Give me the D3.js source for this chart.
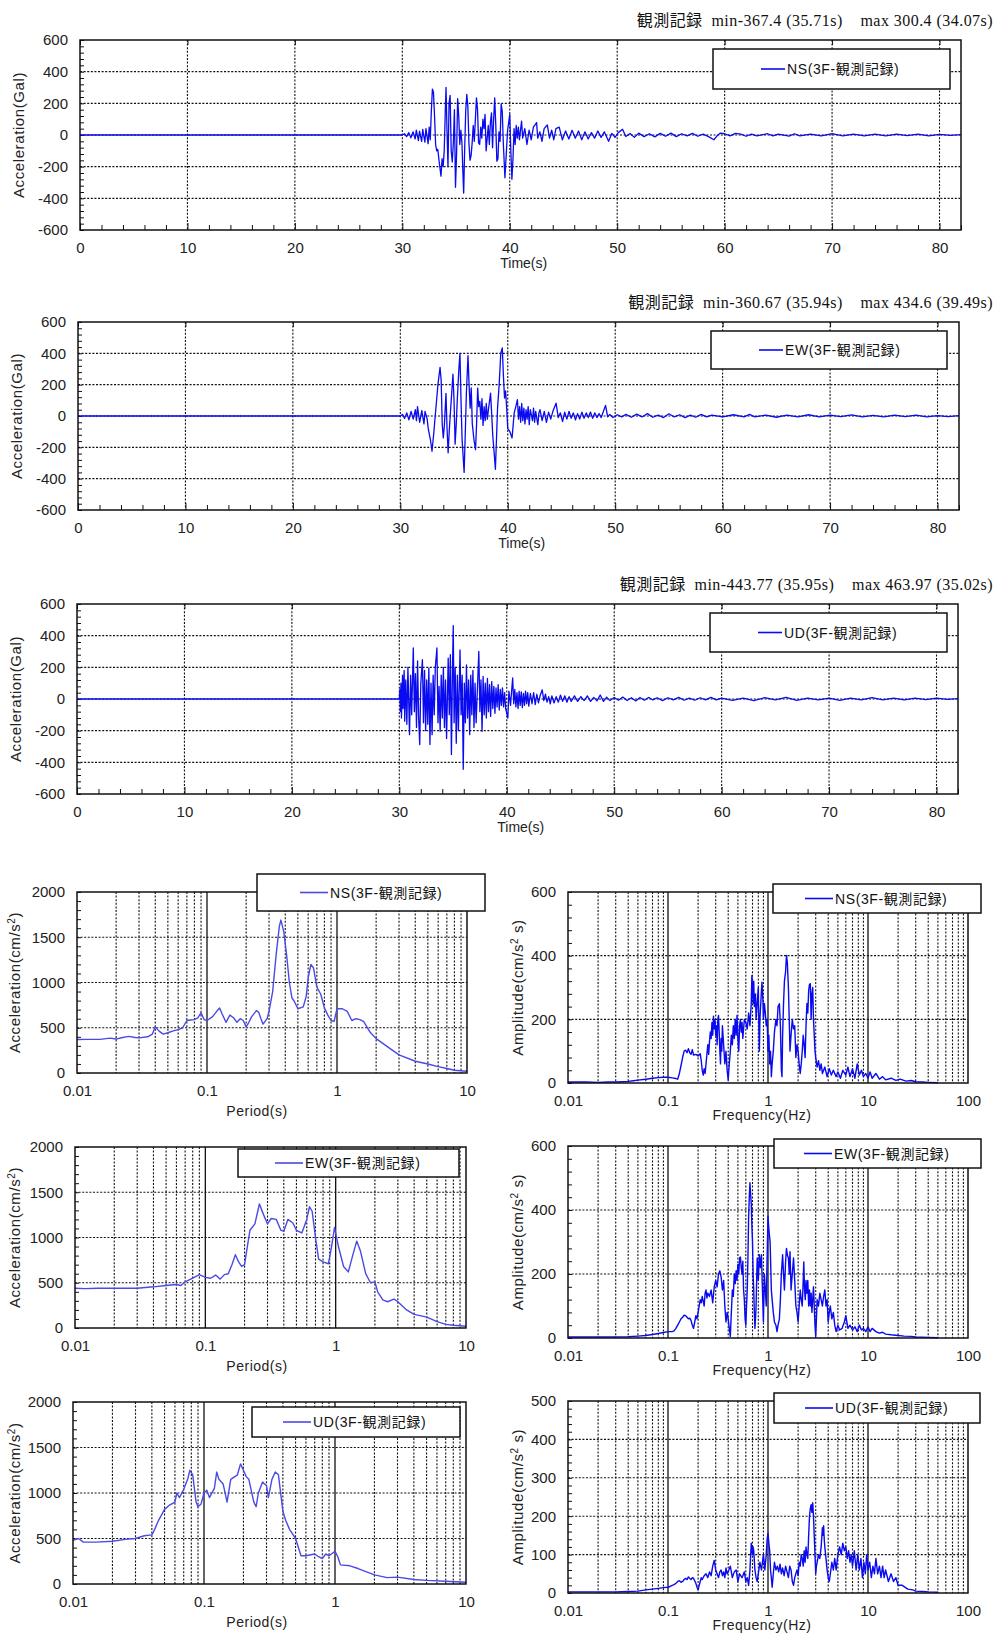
<!DOCTYPE html>
<html><head><meta charset="utf-8">
<script src="https://cdn.jsdelivr.net/npm/d3@7"></script>
<style>
body{margin:0;background:#fff}
svg text{font-family:"Liberation Sans","Noto Sans CJK JP",sans-serif;fill:#222}
svg text.ttl{font-family:"Liberation Serif","Noto Sans CJK JP",serif;white-space:pre}
.grid{stroke:#111;stroke-width:1.1;stroke-dasharray:2,1.6}
.dec{stroke:#111;stroke-width:1.3}
.frame{fill:none;stroke:#111;stroke-width:1.5}
.ax path{display:none}
.ax line{stroke:#111;stroke-width:1}
</style></head><body>
<svg id="c" width="999" height="1634"></svg>
<script>
// ---------- acceleration records (time s, Gal) ----------
const recNS = [[0,0],[30,0],[30.2,8],[30.4,-10],[30.6,15],[30.8,-18],[31.0,20],[31.2,-25],[31.3,30],[31.5,-35],[31.6,25],[31.8,-40],[31.9,35],[32.1,-45],[32.2,40],[32.4,-55],[32.5,50],[32.6,-30],[32.7,150],[32.8,290],[32.9,270],[33.0,120],[33.1,-60],[33.2,-100],[33.3,-90],[33.45,-180],[33.6,-260],[33.7,-150],[33.8,-200],[33.9,-100],[34.0,150],[34.07,300],[34.15,50],[34.25,-200],[34.35,200],[34.45,250],[34.55,-100],[34.65,-170],[34.75,-50],[34.85,160],[34.95,-330],[35.05,-120],[35.15,230],[35.25,120],[35.35,-60],[35.45,30],[35.55,-50],[35.62,-200],[35.71,-367],[35.8,-100],[35.9,150],[36.0,257],[36.1,180],[36.2,-50],[36.3,-160],[36.4,-130],[36.5,-50],[36.6,60],[36.7,-40],[36.8,100],[36.9,235],[37.0,160],[37.1,-50],[37.2,-60],[37.3,50],[37.4,-20],[37.5,100],[37.6,40],[37.7,130],[37.8,-100],[37.9,-20],[38.0,60],[38.1,-60],[38.2,80],[38.3,140],[38.4,-80],[38.5,100],[38.6,235],[38.7,60],[38.8,-165],[38.9,-150],[39.0,20],[39.1,-40],[39.2,195],[39.3,150],[39.4,-50],[39.55,-270],[39.65,-150],[39.8,30],[39.9,80],[40.0,130],[40.1,-100],[40.2,-280],[40.3,-150],[40.4,40],[40.5,-60],[40.6,60],[40.7,-20],[40.8,50],[40.9,-30],[41.1,88],[41.2,-20],[41.4,40],[41.6,-60],[41.8,30],[42.0,-30],[42.2,50],[42.5,78],[42.6,-20],[42.8,20],[43.0,-40],[43.2,40],[43.5,63],[43.7,-20],[43.9,30],[44.1,-30],[44.3,40],[44.6,50],[44.9,-30],[45.2,25],[45.5,-25],[45.8,30],[46.1,-20],[46.4,25],[46.7,-30],[47.0,20],[47.3,-25],[47.6,15],[47.9,-20],[48.2,25],[48.5,-15],[48.8,20],[49.2,-40],[49.5,10],[49.8,-15],[50.1,15],[50.5,36],[50.8,-10],[51.2,10],[51.6,-15],[52.0,12],[52.5,-10],[53,8],[53.5,-12],[54,10],[54.5,-8],[55,12],[55.5,-10],[56,8],[56.5,-6],[57,10],[57.5,-8],[58,6],[58.5,-10],[59.0,-30],[59.3,-5],[59.6,12],[60,8],[60.5,-6],[61,10],[61.5,5],[62,-8],[62.5,6],[63,-5],[64,8],[64.5,-6],[65,5],[66,-7],[66.5,8],[67,-5],[68,6],[69,-6],[70,8],[71,-5],[72,6],[73,-6],[74,5],[75,-5],[76,6],[77,-4],[78,5],[79,-5],[80,4],[81,-3],[82,2]];

const recEW = [[0,0],[30,0],[30.2,10],[30.4,-15],[30.6,20],[30.8,-25],[31.0,30],[31.2,-20],[31.4,40],[31.5,-30],[31.6,60],[31.8,-40],[32.0,35],[32.2,-50],[32.3,30],[32.5,-20],[32.6,-80],[32.8,-150],[32.95,-225],[33.1,-120],[33.2,-40],[33.35,80],[33.5,200],[33.7,310],[33.8,230],[33.9,-50],[34.0,-140],[34.1,-60],[34.25,145],[34.35,-80],[34.45,-235],[34.55,-100],[34.7,60],[34.9,267],[35.0,100],[35.1,-180],[35.2,-60],[35.3,100],[35.45,300],[35.55,400],[35.65,100],[35.75,-150],[35.94,-360],[36.05,-100],[36.15,150],[36.3,385],[36.4,200],[36.5,50],[36.6,180],[36.7,-50],[36.85,-150],[37.0,-215],[37.1,-50],[37.2,178],[37.3,60],[37.4,93],[37.5,-20],[37.6,110],[37.7,-60],[37.8,60],[37.9,-30],[38.0,80],[38.1,-20],[38.2,40],[38.4,146],[38.5,20],[38.6,-120],[38.75,-250],[38.85,-340],[38.95,-150],[39.05,50],[39.2,200],[39.35,400],[39.49,435],[39.6,250],[39.7,115],[39.8,160],[39.9,50],[40.0,-80],[40.2,-100],[40.4,-140],[40.5,-60],[40.6,20],[40.75,60],[40.9,104],[41.0,-20],[41.1,60],[41.2,-40],[41.3,80],[41.4,-30],[41.5,50],[41.6,-50],[41.7,40],[41.8,-20],[41.9,60],[42.0,-55],[42.1,40],[42.3,-30],[42.4,50],[42.5,-40],[42.6,30],[42.8,-55],[42.9,20],[43.0,40],[43.2,-30],[43.4,30],[43.6,-40],[43.8,25],[44.0,-20],[44.2,30],[44.5,82],[44.7,-10],[44.9,20],[45.1,-35],[45.3,25],[45.5,-20],[45.7,30],[45.9,-15],[46.1,20],[46.3,-25],[46.5,15],[46.7,-20],[46.9,25],[47.1,-15],[47.3,20],[47.5,-10],[47.7,25],[47.9,-15],[48.1,20],[48.3,-10],[48.5,15],[48.7,-10],[49.1,68],[49.3,-5],[49.5,10],[49.8,-10],[50.2,8],[50.6,-6],[51,10],[51.5,-8],[52,12],[52.5,-6],[53,15],[53.5,-8],[54,6],[54.5,-10],[55,14],[55.5,-6],[56,8],[56.5,-10],[57,6],[57.5,-8],[58,10],[58.5,-5],[59,6],[60,-6],[61,8],[62,-5],[62.5,10],[63,-5],[64,5],[65,-8],[66,6],[67,-5],[68,8],[69,-6],[70,5],[71,-4],[72,7],[73,-5],[74,4],[75,-6],[76,5],[77,-4],[78,5],[79,-5],[80,3],[81,-4],[82,2]];

const recUD = [[0,0],[30,0],[30.05,60],[30.1,-80],[30.15,100],[30.2,-120],[30.3,150],[30.35,-60],[30.45,180],[30.5,-140],[30.6,120],[30.7,-160],[30.8,200],[30.95,-225],[31.05,150],[31.15,-100],[31.3,322],[31.4,-80],[31.5,160],[31.6,-180],[31.7,240],[31.8,-120],[31.9,-288],[32.0,100],[32.15,248],[32.25,-150],[32.35,180],[32.45,-200],[32.55,120],[32.65,-160],[32.75,195],[32.85,-288],[32.95,100],[33.05,-225],[33.15,150],[33.25,-100],[33.35,200],[33.5,322],[33.6,-150],[33.7,80],[33.8,-204],[33.9,150],[34.0,-120],[34.1,200],[34.2,-180],[34.3,120],[34.4,-250],[34.55,258],[34.65,-100],[34.75,280],[34.85,-350],[34.95,200],[35.02,464],[35.1,-150],[35.2,200],[35.3,-280],[35.4,150],[35.5,-200],[35.65,310],[35.75,-100],[35.85,150],[35.95,-444],[36.05,100],[36.15,-150],[36.25,216],[36.35,-120],[36.45,120],[36.55,-225],[36.65,150],[36.75,-100],[36.85,180],[36.95,-180],[37.05,100],[37.15,-150],[37.3,120],[37.4,300],[37.5,-80],[37.6,120],[37.7,-204],[37.8,142],[37.9,-100],[38.0,100],[38.1,-120],[38.2,130],[38.3,-80],[38.4,90],[38.5,-110],[38.6,110],[38.7,-60],[38.8,80],[38.9,-90],[39.0,70],[39.1,-50],[39.2,90],[39.3,-70],[39.4,60],[39.5,-40],[39.6,70],[39.7,-50],[39.8,40],[39.9,-60],[40.1,-120],[40.2,50],[40.35,-40],[40.55,133],[40.65,-30],[40.75,60],[40.85,-50],[40.95,40],[41.05,-60],[41.15,50],[41.25,-40],[41.35,45],[41.45,-55],[41.55,35],[41.65,-40],[41.75,50],[41.85,-30],[41.95,40],[42.05,-45],[42.2,35],[42.35,-30],[42.5,40],[42.65,-35],[42.8,30],[42.95,-25],[43.1,20],[43.3,58],[43.45,-10],[43.6,30],[43.75,-20],[43.9,15],[44.05,-30],[44.2,20],[44.4,-25],[44.6,15],[44.8,-20],[45.0,25],[45.2,-15],[45.4,20],[45.6,-20],[45.8,15],[46.0,-15],[46.3,20],[46.6,-15],[46.9,15],[47.2,-10],[47.5,20],[47.8,-15],[48.1,10],[48.4,-12],[48.7,25],[49.0,-15],[49.3,12],[49.6,-10],[50.0,10],[50.4,-8],[50.8,12],[51.2,-10],[51.6,8],[52.0,-12],[52.4,10],[52.8,-8],[53.2,10],[53.6,-6],[54.0,8],[54.5,-10],[55.0,8],[55.5,-6],[56,10],[56.5,-8],[57,6],[57.5,-8],[58,8],[58.5,-6],[59,10],[59.5,-5],[60,6],[61,-8],[62,6],[63,-10],[64,8],[65,-6],[66,10],[67,-8],[68,6],[69,-5],[70,6],[71,-8],[72,5],[73,-6],[74,8],[75,-5],[76,6],[77,-6],[78,5],[79,-4],[80,5],[81,-3],[82,2]];

// ---------- acceleration response spectra (period s, cm/s^2) ----------
const rsNS = [[0.01,370],[0.012,372],[0.015,372],[0.018,385],[0.02,375],[0.022,390],[0.025,405],[0.028,392],[0.03,388],[0.035,400],[0.038,430],[0.04,510],[0.043,460],[0.046,430],[0.05,445],[0.055,465],[0.06,480],[0.065,500],[0.07,580],[0.075,585],[0.08,590],[0.085,610],[0.09,665],[0.095,590],[0.1,580],[0.11,620],[0.12,690],[0.125,718],[0.13,660],[0.14,560],[0.15,640],[0.16,610],[0.17,560],[0.18,600],[0.19,580],[0.2,510],[0.21,560],[0.22,620],[0.24,690],[0.25,670],[0.26,600],[0.27,540],[0.29,600],[0.3,680],[0.32,900],[0.34,1300],[0.36,1620],[0.37,1690],[0.39,1560],[0.41,1300],[0.43,1000],[0.45,830],[0.47,790],[0.5,710],[0.55,730],[0.58,850],[0.6,1050],[0.63,1200],[0.66,1160],[0.7,950],[0.75,870],[0.8,720],[0.85,640],[0.9,580],[0.95,570],[1.0,710],[1.1,710],[1.2,680],[1.3,580],[1.4,600],[1.5,590],[1.6,570],[1.8,450],[2.0,380],[2.5,280],[3.0,200],[4.0,130],[5.0,100],[6.0,70],[7.0,50],[8.0,30],[10,20]];

const rsEW = [[0.01,440],[0.012,435],[0.015,440],[0.02,440],[0.03,440],[0.04,455],[0.05,470],[0.06,480],[0.065,470],[0.07,510],[0.08,550],[0.09,590],[0.1,560],[0.11,550],[0.12,585],[0.13,540],[0.14,590],[0.15,600],[0.16,700],[0.17,810],[0.18,730],[0.19,680],[0.2,700],[0.21,900],[0.22,1080],[0.24,1150],[0.26,1370],[0.28,1250],[0.3,1150],[0.32,1210],[0.35,1200],[0.38,1080],[0.4,1070],[0.43,1200],[0.47,1160],[0.5,1080],[0.55,1050],[0.6,1200],[0.63,1340],[0.66,1290],[0.7,1000],[0.74,760],[0.8,730],[0.88,710],[0.93,900],[0.98,1110],[1.05,900],[1.15,680],[1.25,620],[1.35,800],[1.45,960],[1.55,850],[1.7,600],[1.85,500],[2.0,510],[2.1,400],[2.3,310],[2.5,290],[2.8,320],[3.0,290],[3.5,200],[4.0,150],[5.0,120],[6.0,70],[7.0,40],[8.0,30],[10,20]];

const rsUD = [[0.01,480],[0.011,500],[0.012,460],[0.015,460],[0.02,470],[0.025,490],[0.03,500],[0.035,530],[0.04,540],[0.042,600],[0.045,700],[0.05,820],[0.055,870],[0.06,900],[0.062,1000],[0.065,950],[0.07,1040],[0.075,1150],[0.078,1250],[0.082,1200],[0.087,900],[0.09,850],[0.095,880],[0.1,1000],[0.105,1030],[0.11,950],[0.12,1050],[0.125,1230],[0.13,1150],[0.14,1100],[0.15,900],[0.16,1150],[0.18,1200],[0.19,1320],[0.2,1250],[0.21,1180],[0.22,1150],[0.24,900],[0.25,850],[0.26,1000],[0.28,1120],[0.3,1080],[0.31,950],[0.33,1150],[0.35,1230],[0.37,1200],[0.4,800],[0.42,700],[0.45,600],[0.5,500],[0.55,310],[0.6,310],[0.7,330],[0.75,300],[0.8,280],[0.85,330],[0.9,310],[1.0,360],[1.05,300],[1.1,210],[1.3,200],[1.5,170],[2.0,100],[2.5,70],[3.0,75],[4.0,50],[5.0,40],[7.0,30],[10,20]];

// ---------- Fourier amplitude spectra (frequency Hz, cm/s^2·s) ----------
const ftNS = [[0.01,3],[0.015,3],[0.02,2],[0.025,3],[0.03,3],[0.035,4],[0.04,5],[0.045,7],[0.05,9],[0.06,12],[0.07,15],[0.08,17],[0.09,18],[0.1,18],[0.11,16],[0.12,14],[0.125,12],[0.13,30],[0.135,55],[0.14,80],[0.145,100],[0.15,103],[0.155,95],[0.16,108],[0.165,95],[0.17,90],[0.175,105],[0.18,88],[0.19,90],[0.2,85],[0.21,92],[0.215,70],[0.22,40],[0.225,25],[0.23,45],[0.235,30],[0.24,60],[0.25,120],[0.255,90],[0.26,130],[0.265,160],[0.27,140],[0.275,190],[0.28,150],[0.285,210],[0.29,170],[0.295,200],[0.3,150],[0.305,180],[0.31,120],[0.315,200],[0.32,212],[0.325,160],[0.33,100],[0.335,60],[0.34,140],[0.345,100],[0.35,180],[0.36,120],[0.37,60],[0.38,100],[0.39,40],[0.4,10],[0.41,60],[0.42,100],[0.43,150],[0.44,120],[0.45,180],[0.46,140],[0.47,200],[0.48,150],[0.49,212],[0.5,140],[0.51,100],[0.52,180],[0.53,200],[0.54,160],[0.55,190],[0.56,140],[0.58,200],[0.6,190],[0.62,170],[0.64,220],[0.66,180],[0.68,250],[0.69,338],[0.7,300],[0.71,250],[0.72,320],[0.73,240],[0.75,280],[0.76,200],[0.78,250],[0.8,300],[0.81,180],[0.82,100],[0.83,200],[0.85,260],[0.87,317],[0.89,260],[0.9,200],[0.92,250],[0.94,220],[0.96,180],[0.98,200],[1.0,100],[1.02,150],[1.04,60],[1.06,100],[1.08,20],[1.1,60],[1.13,100],[1.16,160],[1.2,200],[1.23,180],[1.26,240],[1.3,249],[1.33,180],[1.36,40],[1.38,20],[1.4,150],[1.43,250],[1.46,320],[1.5,350],[1.53,401],[1.56,380],[1.6,300],[1.63,200],[1.66,100],[1.7,150],[1.75,200],[1.8,170],[1.85,180],[1.9,80],[1.95,120],[2.0,100],[2.05,60],[2.1,30],[2.15,60],[2.2,100],[2.25,150],[2.3,120],[2.35,80],[2.4,180],[2.45,250],[2.5,220],[2.55,290],[2.6,310],[2.65,312],[2.7,200],[2.75,280],[2.8,300],[2.85,200],[2.9,150],[2.95,100],[3.0,80],[3.1,50],[3.2,70],[3.3,40],[3.4,60],[3.5,30],[3.7,50],[3.9,20],[4.1,45],[4.3,25],[4.5,40],[4.8,20],[5.0,35],[5.3,15],[5.6,40],[6.0,25],[6.3,50],[6.6,20],[7.0,45],[7.4,15],[7.8,60],[8.2,25],[8.6,40],[9.0,20],[9.5,30],[10,15],[10.5,35],[11,15],[12,30],[13,12],[14,20],[15,10],[17,15],[19,8],[21,12],[24,6],[27,8],[30,4],[35,3],[40,2],[50,1]];

const ftEW = [[0.01,3],[0.015,3],[0.02,3],[0.03,3],[0.04,4],[0.05,6],[0.06,8],[0.07,11],[0.08,14],[0.09,17],[0.1,20],[0.11,20],[0.115,22],[0.12,30],[0.125,40],[0.13,50],[0.135,60],[0.14,65],[0.145,71],[0.15,70],[0.155,65],[0.16,60],[0.165,62],[0.17,55],[0.175,40],[0.18,30],[0.185,50],[0.19,70],[0.195,60],[0.2,80],[0.205,100],[0.21,120],[0.215,110],[0.22,130],[0.225,115],[0.23,100],[0.235,140],[0.24,150],[0.245,125],[0.25,140],[0.26,130],[0.27,150],[0.28,110],[0.29,160],[0.3,180],[0.31,160],[0.32,200],[0.33,210],[0.34,190],[0.35,150],[0.36,180],[0.37,100],[0.38,50],[0.39,80],[0.4,60],[0.41,30],[0.42,5],[0.43,80],[0.44,150],[0.45,130],[0.46,200],[0.47,170],[0.48,210],[0.49,180],[0.5,230],[0.51,200],[0.52,250],[0.53,253],[0.54,220],[0.55,200],[0.56,240],[0.57,150],[0.58,120],[0.59,60],[0.6,40],[0.61,100],[0.62,150],[0.63,250],[0.64,380],[0.65,440],[0.66,485],[0.67,450],[0.68,420],[0.69,350],[0.7,300],[0.71,200],[0.72,150],[0.73,80],[0.74,30],[0.75,60],[0.76,100],[0.77,180],[0.78,250],[0.8,180],[0.82,260],[0.84,220],[0.86,260],[0.88,150],[0.9,50],[0.92,200],[0.94,150],[0.96,100],[0.98,250],[1.0,381],[1.02,340],[1.05,300],[1.08,150],[1.1,120],[1.13,80],[1.16,50],[1.2,40],[1.23,20],[1.26,40],[1.3,60],[1.33,120],[1.36,200],[1.4,260],[1.43,200],[1.46,150],[1.5,240],[1.53,280],[1.56,260],[1.6,250],[1.63,200],[1.66,270],[1.7,150],[1.75,200],[1.8,250],[1.85,180],[1.9,100],[1.95,80],[2.0,50],[2.05,100],[2.1,150],[2.15,120],[2.2,100],[2.25,180],[2.28,238],[2.32,150],[2.36,120],[2.4,180],[2.45,140],[2.5,180],[2.55,100],[2.6,150],[2.65,100],[2.7,140],[2.75,80],[2.8,120],[2.85,160],[2.9,100],[2.95,40],[3.0,5],[3.05,60],[3.1,120],[3.2,100],[3.3,140],[3.4,120],[3.5,100],[3.6,130],[3.7,150],[3.8,100],[3.9,120],[4.0,50],[4.1,80],[4.2,100],[4.35,60],[4.5,80],[4.65,40],[4.8,20],[5.0,40],[5.2,25],[5.5,30],[5.8,50],[6.0,70],[6.3,30],[6.6,40],[7.0,25],[7.4,35],[7.8,20],[8.2,40],[8.6,25],[9.0,30],[9.5,20],[10,35],[10.5,20],[11,30],[12,20],[13,15],[14,18],[15,12],[17,10],[20,8],[23,6],[27,5],[30,3],[40,2],[50,1]];

const ftUD = [[0.01,3],[0.02,3],[0.03,3],[0.04,4],[0.05,5],[0.06,8],[0.07,10],[0.08,12],[0.09,14],[0.1,15],[0.105,17],[0.11,20],[0.115,22],[0.12,25],[0.125,30],[0.13,32],[0.135,28],[0.14,30],[0.145,35],[0.15,38],[0.155,35],[0.16,42],[0.165,38],[0.17,35],[0.175,40],[0.18,38],[0.185,32],[0.19,25],[0.195,15],[0.2,8],[0.205,20],[0.21,30],[0.215,40],[0.22,35],[0.23,45],[0.24,50],[0.25,40],[0.26,55],[0.27,45],[0.28,70],[0.29,85],[0.3,60],[0.31,50],[0.32,40],[0.33,55],[0.34,60],[0.35,45],[0.36,55],[0.37,40],[0.38,65],[0.39,50],[0.4,55],[0.42,70],[0.44,40],[0.46,55],[0.48,60],[0.5,30],[0.52,50],[0.55,40],[0.58,55],[0.6,30],[0.62,40],[0.64,20],[0.66,60],[0.68,130],[0.69,110],[0.7,100],[0.71,120],[0.72,110],[0.74,60],[0.76,40],[0.78,30],[0.8,50],[0.83,80],[0.86,60],[0.9,100],[0.93,60],[0.96,100],[0.98,140],[1.0,156],[1.02,130],[1.04,110],[1.06,60],[1.08,40],[1.1,15],[1.13,50],[1.16,80],[1.2,60],[1.24,70],[1.28,55],[1.32,75],[1.36,50],[1.4,65],[1.45,45],[1.5,70],[1.55,55],[1.6,40],[1.65,70],[1.7,60],[1.75,30],[1.8,20],[1.85,40],[1.9,50],[1.95,60],[2.0,45],[2.05,80],[2.1,70],[2.15,100],[2.2,90],[2.25,70],[2.3,110],[2.35,80],[2.4,120],[2.45,100],[2.5,90],[2.55,150],[2.6,200],[2.65,220],[2.7,230],[2.75,210],[2.8,235],[2.85,200],[2.9,150],[2.95,100],[3.0,50],[3.05,70],[3.1,80],[3.2,100],[3.3,90],[3.4,120],[3.5,170],[3.55,150],[3.6,175],[3.65,140],[3.7,120],[3.8,90],[3.9,60],[4.0,40],[4.1,30],[4.2,50],[4.35,80],[4.5,60],[4.65,90],[4.8,60],[5.0,100],[5.2,120],[5.4,100],[5.6,130],[5.8,110],[6.0,120],[6.2,90],[6.4,110],[6.6,80],[6.8,100],[7.0,70],[7.3,110],[7.6,60],[7.9,100],[8.2,60],[8.5,90],[8.8,40],[9.1,80],[9.4,50],[9.7,100],[10,60],[10.4,80],[10.8,40],[11.2,70],[11.6,50],[12,90],[12.5,50],[13,70],[13.5,40],[14,70],[14.5,40],[15,60],[16,30],[17,50],[18,30],[19,40],[20,20],[22,20],[25,10],[28,8],[30,5],[35,4],[40,3],[50,2]];

// ---------- tick values and labels ----------
const timeTicks = [0,10,20,30,40,50,60,70,80];
const timeMinor = [2,4,6,8,12,14,16,18,22,24,26,28,32,34,36,38,42,44,46,48,52,54,56,58,62,64,66,68,72,74,76,78,82];
const accTicks = [-600,-400,-200,0,200,400,600];
const periodTicks = [0.01,0.1,1,10];
const freqTicks = [0.01,0.1,1,10,100];
const rsTicks = [0,500,1000,1500,2000];
const ftTicks600 = [0,200,400,600];
const ftTicks500 = [0,100,200,300,400,500];

const components = ["NS","EW","UD"];
const legendNames = components.map(c => c + "(3F-観測記録)");
const titles = [
  "観測記録  min-367.4 (35.71s)    max 300.4 (34.07s)",
  "観測記録  min-360.67 (35.94s)    max 434.6 (39.49s)",
  "観測記録  min-443.77 (35.95s)    max 463.97 (35.02s)"
];

const svg = d3.select("#c");
const LINE = "#0a0af0";
const LINE_RS = "#4a4ae6";
const plain = d => String(d);

function legend(box, name, lx0, lx1, color){
  const g = svg.append("g");
  g.append("rect").attr("x",box[0]).attr("y",box[1]).attr("width",box[2]-box[0]).attr("height",box[3]-box[1])
    .attr("fill","#fff").attr("stroke","#111").attr("stroke-width",1.5);
  const cy = (box[1]+box[3])/2;
  g.append("line").attr("x1",lx0).attr("x2",lx1).attr("y1",cy).attr("y2",cy).attr("stroke",color).attr("stroke-width",1.6);
  g.append("text").attr("x",lx1+2).attr("y",cy).attr("dy","0.36em").attr("font-size",14)
    .attr("letter-spacing",0.6).style("fill","#111").text(name);
}

function yTitle(x, cy, parts){
  const t = svg.append("text").attr("transform",`translate(${x},${cy}) rotate(-90)`)
    .attr("text-anchor","middle").attr("dy","0.36em").attr("font-size",15).attr("letter-spacing",0.6);
  parts.forEach(p => {
    const s = t.append("tspan").text(p.t);
    if (p.sup) s.attr("baseline-shift","super").attr("font-size",10);
  });
}

function styleLabels(sel){
  sel.selectAll("text").attr("font-size",15).attr("fill","#222").attr("font-family",null);
}

// ---------- acceleration time history panel ----------
function drawRecord(i, rec, box){
  const x = d3.scaleLinear().domain([0,82]).range([box.l, box.r]);
  const y = d3.scaleLinear().domain([-600,600]).range([box.b, box.t]);
  const g = svg.append("g");
  g.selectAll(null).data(timeTicks.filter(d => d > 0)).join("line").attr("class","grid")
    .attr("x1",d=>x(d)).attr("x2",d=>x(d)).attr("y1",box.t).attr("y2",box.b);
  g.selectAll(null).data(accTicks.filter(d => d > -600 && d < 600)).join("line").attr("class","grid")
    .attr("y1",d=>y(d)).attr("y2",d=>y(d)).attr("x1",box.l).attr("x2",box.r);
  // inward minor ticks
  g.append("g").attr("class","ax").attr("transform",`translate(0,${box.b})`)
    .call(d3.axisBottom(x).tickValues(timeMinor).tickSize(-5).tickFormat(""));
  g.append("g").attr("class","ax").attr("transform",`translate(0,${box.b})`)
    .call(d3.axisBottom(x).tickValues(timeTicks).tickSize(-7).tickFormat(""));
  g.append("g").attr("class","ax").attr("transform",`translate(0,${box.t})`)
    .call(d3.axisTop(x).tickValues(timeTicks).tickSize(-5).tickFormat(""));
  g.append("g").attr("class","ax").attr("transform",`translate(${box.l},0)`)
    .call(d3.axisLeft(y).tickValues(d3.range(-600,601,40)).tickSize(-4).tickFormat(""));
  // labels
  styleLabels(g.append("g").attr("class","ax").attr("transform",`translate(0,${box.b})`)
    .call(d3.axisBottom(x).tickValues(timeTicks).tickSize(0).tickPadding(12).tickFormat(plain)));
  styleLabels(g.append("g").attr("class","ax").attr("transform",`translate(${box.l},0)`)
    .call(d3.axisLeft(y).tickValues(accTicks).tickSize(0).tickPadding(12).tickFormat(plain)));
  // trace
  g.append("path").datum(rec).attr("fill","none").attr("stroke",LINE).attr("stroke-width",1.3)
    .attr("stroke-linejoin","round")
    .attr("d", d3.line().x(d=>x(d[0])).y(d=>y(d[1])));
  g.append("rect").attr("class","frame").attr("x",box.l).attr("y",box.t).attr("width",box.r-box.l).attr("height",box.b-box.t);
  g.append("text").attr("x",x(41.3)).attr("y",box.b+38).attr("text-anchor","middle").attr("font-size",14).text("Time(s)");
  yTitle(box.l-61, (box.t+box.b)/2, [{t:"Acceleration(Gal)"}]);
  svg.append("text").attr("class","ttl").attr("x",993).attr("y",box.t-14).attr("text-anchor","end")
    .attr("font-size",16).attr("letter-spacing",0.45).style("fill","#111").text(titles[i]);
  legend(box.leg, legendNames[i], box.leg[0]+48, box.leg[0]+72, LINE);
}

// ---------- log-x spectrum panel ----------
function drawSpectrum(data, cfg){
  const x = d3.scaleLog().domain([cfg.xTicks[0], cfg.xTicks[cfg.xTicks.length-1]]).range([cfg.l, cfg.r]);
  const y = d3.scaleLinear().domain([0, cfg.yTicks[cfg.yTicks.length-1]]).range([cfg.b, cfg.t]);
  const g = svg.append("g");
  const all = x.ticks();
  const decades = cfg.xTicks.slice(1,-1);
  g.selectAll(null).data(all.filter(d => !cfg.xTicks.includes(d))).join("line").attr("class","grid")
    .attr("x1",d=>x(d)).attr("x2",d=>x(d)).attr("y1",cfg.t).attr("y2",cfg.b);
  g.selectAll(null).data(decades).join("line").attr("class","dec")
    .attr("x1",d=>x(d)).attr("x2",d=>x(d)).attr("y1",cfg.t).attr("y2",cfg.b);
  g.selectAll(null).data(cfg.yTicks.slice(1,-1)).join("line").attr("class","grid")
    .attr("y1",d=>y(d)).attr("y2",d=>y(d)).attr("x1",cfg.l).attr("x2",cfg.r);
  const step = cfg.yTicks[1]/5;
  g.append("g").attr("class","ax").attr("transform",`translate(${cfg.l},0)`)
    .call(d3.axisLeft(y).tickValues(d3.range(0, y.domain()[1]+1, step)).tickSize(-4).tickFormat(""));
  styleLabels(g.append("g").attr("class","ax").attr("transform",`translate(0,${cfg.b})`)
    .call(d3.axisBottom(x).tickValues(cfg.xTicks).tickSize(0).tickPadding(12).tickFormat(plain)));
  styleLabels(g.append("g").attr("class","ax").attr("transform",`translate(${cfg.l},0)`)
    .call(d3.axisLeft(y).tickValues(cfg.yTicks).tickSize(0).tickPadding(12).tickFormat(plain)));
  g.append("path").datum(data).attr("fill","none").attr("stroke",cfg.color).attr("stroke-width",cfg.sw)
    .attr("stroke-linejoin","round")
    .attr("d", d3.line().x(d=>x(d[0])).y(d=>y(d[1])));
  g.append("rect").attr("class","frame").attr("x",cfg.l).attr("y",cfg.t).attr("width",cfg.r-cfg.l).attr("height",cfg.b-cfg.t);
  g.append("text").attr("x",cfg.xlx).attr("y",cfg.xly).attr("text-anchor","middle").attr("font-size",14)
    .attr("letter-spacing",0.5).text(cfg.xLabel);
  yTitle(cfg.ytx, (cfg.t+cfg.b)/2, cfg.yLabel);
  legend(cfg.leg, cfg.name, cfg.leg[0]+cfg.lo, cfg.leg[0]+cfg.lo+28, cfg.color);
}

const records = [recNS, recEW, recUD];
const boxes = [
  {l:80, t:40,  r:961, b:230, leg:[713,49,950,89]},
  {l:78, t:322, r:959, b:510, leg:[711,331,947,369]},
  {l:77, t:604, r:958, b:794, leg:[710,613,947,652]}
];
records.forEach((r,i) => drawRecord(i, r, boxes[i]));

const rsLabel = [{t:"Acceleration(cm/s"},{t:"2",sup:true},{t:")"}];
const ftLabel = [{t:"Amplitude(cm/s"},{t:"2",sup:true},{t:" s)"}];
const rsData = [rsNS, rsEW, rsUD];
const rsBoxes = [
  {l:77, t:892,  r:467, b:1073, leg:[257,874,485,911],  lo:43},
  {l:75, t:1147, r:466, b:1328, leg:[238,1149,459,1177], lo:37},
  {l:73, t:1402, r:466, b:1584, leg:[252,1407,460,1437], lo:31}
];
rsData.forEach((d,i) => {
  const b = rsBoxes[i];
  drawSpectrum(d, Object.assign({}, b, {xTicks:periodTicks, yTicks:rsTicks, color:LINE_RS, sw:1.4,
    xLabel:"Period(s)", xlx:257, xly:b.b+43, yLabel:rsLabel, ytx:15, name:legendNames[i]}));
});

const ftData = [ftNS, ftEW, ftUD];
const ftBoxes = [
  {l:568, t:892,  r:968, b:1083, leg:[773,884,981,913],  lo:32, yt:ftTicks600},
  {l:568, t:1146, r:968, b:1338, leg:[774,1139,981,1168], lo:30, yt:ftTicks600},
  {l:568, t:1401, r:968, b:1593, leg:[774,1393,980,1423], lo:31, yt:ftTicks500}
];
ftData.forEach((d,i) => {
  const b = ftBoxes[i];
  drawSpectrum(d, Object.assign({}, b, {xTicks:freqTicks, yTicks:b.yt, color:LINE, sw:1.4,
    xLabel:"Frequency(Hz)", xlx:762, xly:b.b+37, yLabel:ftLabel, ytx:518, name:legendNames[i]}));
});
</script>
</body></html>
